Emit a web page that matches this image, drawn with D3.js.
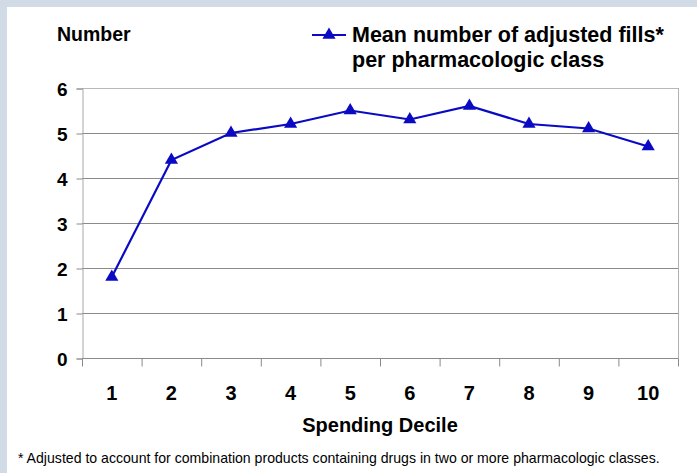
<!DOCTYPE html>
<html><head><meta charset="utf-8">
<script src="https://cdn.jsdelivr.net/npm/d3@7"></script>
<style>html,body{margin:0;padding:0;background:#fff;}svg{display:block;}</style>
</head><body>
<script>
const deciles = ["1","2","3","4","5","6","7","8","9","10"];
const meanFills = [1.8, 4.4, 5.0, 5.2, 5.5, 5.3, 5.6, 5.2, 5.1, 4.7];
const yTicks = [0,1,2,3,4,5,6];
const seriesName = ["Mean number of adjusted fills*", "per pharmacologic class"];
const yTitle = "Number";
const xTitle = "Spending Decile";
const footnote = "* Adjusted to account for combination products containing drugs in two or more pharmacologic classes.";

const W = 697, H = 473;
const font = "'Liberation Sans', Arial, Helvetica, sans-serif";
const svg = d3.select("body").append("svg").attr("width", W).attr("height", H);
svg.append("rect").attr("width", W).attr("height", H).attr("fill", "#d0dbe6");
svg.append("rect").attr("x", 7).attr("y", 7).attr("width", W-7).attr("height", H-7).attr("fill", "#fff");

const L = 82, R = 678, T = 88, B = 358;
const x = d3.scaleBand().domain(deciles).range([L, R]).padding(0);
const y = d3.scaleLinear().domain([0, 6]).range([B, T]);

// gridlines
svg.append("g").selectAll("line").data(yTicks).join("line")
  .attr("x1", L).attr("x2", R)
  .attr("y1", d => y(d)+0.5).attr("y2", d => y(d)+0.5)
  .attr("stroke", d => d === 6 ? "#b8b8b8" : "#8a8a8a").attr("stroke-width", 1);
// right border
svg.append("line").attr("x1", R+0.5).attr("x2", R+0.5).attr("y1", T).attr("y2", B)
  .attr("stroke", "#b0b0b0");

// y axis
const yAxis = svg.append("g").attr("transform", `translate(${L+0.5},0.5)`)
  .call(d3.axisLeft(y).tickValues(yTicks).tickSize(6).tickPadding(9).tickFormat(d3.format("d")));
yAxis.select(".domain").attr("stroke", "#a8a8a8");
yAxis.selectAll(".tick line").attr("stroke", "#8a8a8a");
yAxis.selectAll("text").attr("font-family", font).attr("font-weight", "bold").attr("font-size", 19).attr("fill", "#000").attr("dy", "0.36em");

// x axis: ticks at band boundaries
const xAxisG = svg.append("g").attr("transform", `translate(0.5,${B+0.5})`);
const bounds = deciles.map(d => x(d)).concat([R]);
xAxisG.selectAll("line").data(bounds).join("line")
  .attr("x1", d => d).attr("x2", d => d).attr("y1", 0).attr("y2", 8)
  .attr("stroke", "#8a8a8a");
xAxisG.append("line").attr("x1", L).attr("x2", R).attr("y1", 0).attr("y2", 0).attr("stroke", "#8a8a8a");
svg.append("g").selectAll("text").data(deciles).join("text")
  .attr("x", d => x(d) + x.bandwidth()/2).attr("y", 400)
  .attr("text-anchor", "middle")
  .attr("font-family", font).attr("font-weight", "bold").attr("font-size", 20).attr("fill", "#000")
  .text(d => d);

// line
const pts = deciles.map((d, i) => [x(d) + x.bandwidth()/2, y(meanFills[i])]);
const color = "#0a0ac4";
svg.append("path").datum(pts)
  .attr("d", d3.line())
  .attr("fill", "none").attr("stroke", color).attr("stroke-width", 2.2);
const tri = d3.symbol().type(d3.symbolTriangle).size(75);
svg.append("g").selectAll("path").data(pts).join("path")
  .attr("transform", d => `translate(${d[0]},${d[1]})`)
  .attr("d", tri).attr("fill", color);

// titles
svg.append("text").attr("x", 57).attr("y", 41)
  .attr("font-family", font).attr("font-weight", "bold").attr("font-size", 19.5).attr("fill", "#000")
  .text(yTitle);
svg.append("text").attr("x", 380).attr("y", 432).attr("text-anchor", "middle")
  .attr("font-family", font).attr("font-weight", "bold").attr("font-size", 20).attr("fill", "#000")
  .text(xTitle);
svg.append("text").attr("x", 18).attr("y", 463)
  .attr("font-family", font).attr("font-size", 14.1).attr("fill", "#000")
  .text(footnote);

// legend
svg.append("line").attr("x1", 312).attr("x2", 346).attr("y1", 35).attr("y2", 35)
  .attr("stroke", color).attr("stroke-width", 2.2);
svg.append("path").attr("transform", "translate(329,35)").attr("d", tri).attr("fill", color);
svg.append("text").attr("x", 352).attr("y", 42)
  .attr("font-family", font).attr("font-weight", "bold").attr("font-size", 21.5).attr("fill", "#000")
  .text(seriesName[0]);
svg.append("text").attr("x", 352).attr("y", 67)
  .attr("font-family", font).attr("font-weight", "bold").attr("font-size", 21.5).attr("fill", "#000")
  .text(seriesName[1]);
</script>
</body></html>
